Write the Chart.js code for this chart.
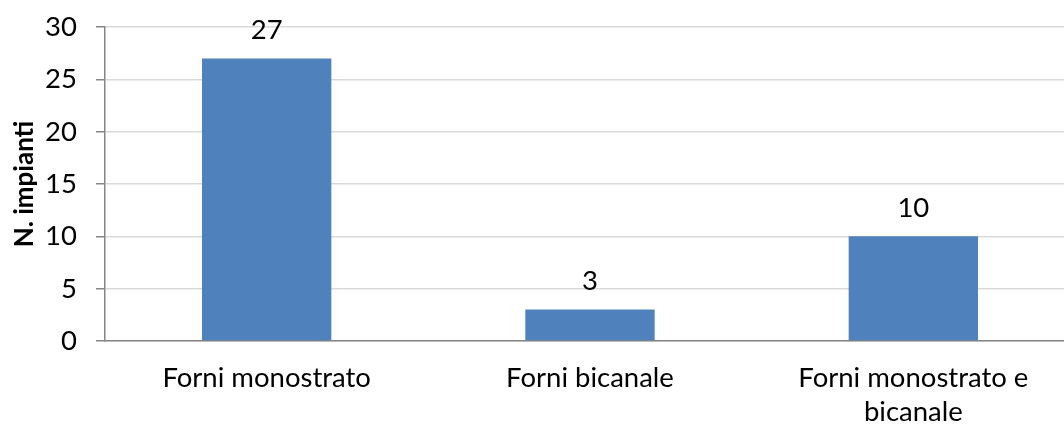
<!DOCTYPE html>
<html>
<head>
<meta charset="utf-8">
<script src="https://cdn.jsdelivr.net/npm/chart.js@4/dist/chart.umd.min.js"></script>
<style>
  html, body { margin: 0; padding: 0; background: #ffffff; overflow: hidden; }
  #wrap { position: relative; width: 1080px; height: 424px; }
</style>
</head>
<body>
<div id="wrap"><canvas id="c"></canvas></div>
<script>
const categories = [["Forni monostrato"], ["Forni bicanale"], ["Forni monostrato e", "bicanale"]];
const values = [27, 3, 10];
const yTicks = [0, 5, 10, 15, 20, 25, 30];
const yTitle = "N. impianti";

const FONT = "Lato, 'Open Sans', sans-serif";

const valueLabels = {
  id: 'valueLabels',
  afterDatasetsDraw(chart) {
    const ctx = chart.ctx;
    const meta = chart.getDatasetMeta(0);
    ctx.save();
    ctx.font = "27.5px " + FONT;
    ctx.fillStyle = "#000000";
    ctx.textAlign = "center";
    ctx.textBaseline = "middle";
    meta.data.forEach((bar, i) => {
      ctx.fillText(String(values[i]), bar.x, bar.y - 28);
    });
    ctx.restore();
  }
};

new Chart(document.getElementById('c'), {
  type: 'bar',
  data: {
    labels: categories,
    datasets: [{
      data: values,
      backgroundColor: '#4f81bd',
      borderWidth: 0,
      barPercentage: 0.4,
      categoryPercentage: 1.0
    }]
  },
  options: {
    responsive: true,
    maintainAspectRatio: false,
    animation: false,
    layout: { padding: { top: 27, right: 5, left: 0, bottom: 0 } },
    plugins: { legend: { display: false }, tooltip: { enabled: false } },
    scales: {
      x: {
        grid: { display: false, drawTicks: false },
        border: { display: true, color: '#868686', width: 1.5 },
        ticks: {
          color: '#000000',
          font: { family: FONT, size: 27.5, lineHeight: 1.25 },
          padding: 20,
          maxRotation: 0,
          autoSkip: false
        },
        afterFit(scale) { scale.height = 83; scale.paddingLeft = 0; scale.paddingRight = 0; }
      },
      y: {
        min: 0, max: 30,
        afterBuildTicks(scale) { scale.ticks = yTicks.map(v => ({ value: v })); },
        grid: { color: '#d9d9d9', lineWidth: 1.5, tickLength: 9, tickColor: '#868686' },
        border: { display: true, color: '#868686', width: 1.5 },
        ticks: {
          color: '#000000',
          font: { family: FONT, size: 27.5 },
          padding: 19
        },
        title: {
          display: true,
          text: yTitle,
          color: '#000000',
          font: { family: FONT, size: 26, weight: 'bold' },
          padding: { top: 9, bottom: 0 }
        },
        afterFit(scale) { scale.width = 105; scale.paddingTop = 0; scale.paddingBottom = 0; }
      }
    }
  },
  plugins: [valueLabels]
});
</script>
</body>
</html>
